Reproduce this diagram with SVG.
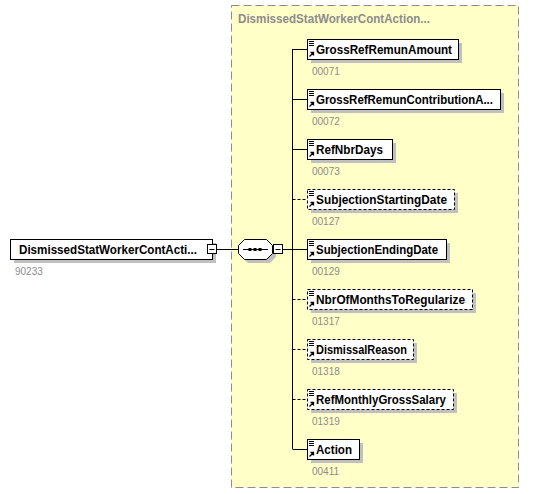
<svg xmlns="http://www.w3.org/2000/svg" width="533" height="494" viewBox="0 0 533 494">
<style>
.nm{font-family:"Liberation Sans",Arial,sans-serif;font-weight:bold;font-size:12.6px;fill:#000}
.num{font-family:"Liberation Sans",Arial,sans-serif;font-size:10px;fill:#8c8c8c}
.ttl{font-family:"Liberation Sans",Arial,sans-serif;font-weight:bold;font-size:12.6px;fill:#8c8c8c}
.box{fill:#fff;stroke:#000;stroke-width:1}
.opt{fill:#fff;stroke:#000;stroke-width:1;stroke-dasharray:3,2}
.sh{fill:#c0c0c0}
.ln{stroke:#000;stroke-width:1;fill:none}
.dl{stroke:#000;stroke-width:1;fill:none;stroke-dasharray:3,2}
</style>
<defs>
<g id="ico">
<path d="M2,2.5h5M2,4.5h5M2,6.5h5" stroke="#000" stroke-width="1"/>
<path d="M2.5,17.5L6.5,13.5M3.5,13.5h3v3" stroke="#000" stroke-width="1.3" fill="none"/>
</g>
</defs>
<rect x="231.5" y="5.5" width="287" height="482" fill="#ffffc8" stroke="#8c8c8c" stroke-dasharray="8,4"/>
<text class="ttl" x="238" y="23" textLength="192" lengthAdjust="spacingAndGlyphs">DismissedStatWorkerContAction...</text>

<g id="connectors">
<path class="ln" d="M217,249.5H238M283,249.5H292.5M292.5,49V449"/>
<path class="ln" d="M292.5,49.5H307M292.5,99.5H307M292.5,149.5H307M292.5,249.5H307M292.5,449.5H307"/>
<path class="dl" d="M292.5,199.5H307M292.5,299.5H307M292.5,349.5H307M292.5,399.5H307"/>
</g>

<g id="root">
<rect class="sh" x="14" y="243" width="202" height="20"/>
<rect class="box" x="10.5" y="239.5" width="202" height="20"/>
<text class="nm" x="19" y="254" textLength="178" lengthAdjust="spacingAndGlyphs">DismissedStatWorkerContActi...</text>
<rect class="box" x="207.5" y="244.5" width="9" height="9"/>
<path class="ln" d="M209.5,249.5H214.5"/>
<text class="num" x="15" y="275">90233</text>
</g>

<g id="seq">
<polygon class="sh" points="248,243 270,243 276,249 276,257 270,263 248,263 242,257 242,249"/>
<polygon class="box" points="244.5,239.5 266.5,239.5 272.5,245.5 272.5,253.5 266.5,259.5 244.5,259.5 238.5,253.5 238.5,245.5"/>
<path class="ln" d="M243,249.5H268"/>
<rect x="248.5" y="248" width="3" height="3" fill="#000"/>
<rect x="253.5" y="248" width="3" height="3" fill="#000"/>
<rect x="258.5" y="248" width="3" height="3" fill="#000"/>
<rect class="box" x="273.5" y="244.5" width="9" height="9"/>
<path class="ln" d="M275.5,249.5H280.5"/>
</g>

<g id="n1">
<rect class="sh" x="311" y="43" width="151" height="20"/>
<rect class="box" x="307.5" y="39.5" width="151" height="20"/>
<use href="#ico" x="307" y="39"/>
<text class="nm" x="316" y="54" textLength="136" lengthAdjust="spacingAndGlyphs">GrossRefRemunAmount</text>
<text class="num" x="312" y="75">00071</text>
</g>
<g id="n2">
<rect class="sh" x="311" y="93" width="193" height="20"/>
<rect class="box" x="307.5" y="89.5" width="193" height="20"/>
<use href="#ico" x="307" y="89"/>
<text class="nm" x="316" y="104" textLength="177" lengthAdjust="spacingAndGlyphs">GrossRefRemunContributionA...</text>
<text class="num" x="312" y="125">00072</text>
</g>
<g id="n3">
<rect class="sh" x="311" y="143" width="85" height="20"/>
<rect class="box" x="307.5" y="139.5" width="85" height="20"/>
<use href="#ico" x="307" y="139"/>
<text class="nm" x="316" y="154" textLength="67" lengthAdjust="spacingAndGlyphs">RefNbrDays</text>
<text class="num" x="312" y="175">00073</text>
</g>
<g id="n4">
<rect class="sh" x="311" y="193" width="147" height="20"/>
<rect class="opt" x="307.5" y="189.5" width="147" height="20"/>
<use href="#ico" x="307" y="189"/>
<text class="nm" x="316" y="204" textLength="131" lengthAdjust="spacingAndGlyphs">SubjectionStartingDate</text>
<text class="num" x="312" y="225">00127</text>
</g>
<g id="n5">
<rect class="sh" x="311" y="243" width="139" height="20"/>
<rect class="box" x="307.5" y="239.5" width="139" height="20"/>
<use href="#ico" x="307" y="239"/>
<text class="nm" x="316" y="254" textLength="122" lengthAdjust="spacingAndGlyphs">SubjectionEndingDate</text>
<text class="num" x="312" y="275">00129</text>
</g>
<g id="n6">
<rect class="sh" x="311" y="293" width="165" height="20"/>
<rect class="opt" x="307.5" y="289.5" width="165" height="20"/>
<use href="#ico" x="307" y="289"/>
<text class="nm" x="316" y="304" textLength="149" lengthAdjust="spacingAndGlyphs">NbrOfMonthsToRegularize</text>
<text class="num" x="312" y="325">01317</text>
</g>
<g id="n7">
<rect class="sh" x="311" y="343" width="106" height="20"/>
<rect class="opt" x="307.5" y="339.5" width="106" height="20"/>
<use href="#ico" x="307" y="339"/>
<text class="nm" x="316" y="354" textLength="91" lengthAdjust="spacingAndGlyphs">DismissalReason</text>
<text class="num" x="312" y="375">01318</text>
</g>
<g id="n8">
<rect class="sh" x="311" y="393" width="146" height="20"/>
<rect class="opt" x="307.5" y="389.5" width="146" height="20"/>
<use href="#ico" x="307" y="389"/>
<text class="nm" x="316" y="404" textLength="130" lengthAdjust="spacingAndGlyphs">RefMonthlyGrossSalary</text>
<text class="num" x="312" y="425">01319</text>
</g>
<g id="n9">
<rect class="sh" x="311" y="443" width="52" height="20"/>
<rect class="box" x="307.5" y="439.5" width="52" height="20"/>
<use href="#ico" x="307" y="439"/>
<text class="nm" x="316" y="454" textLength="36" lengthAdjust="spacingAndGlyphs">Action</text>
<text class="num" x="312" y="475">00411</text>
</g>
</svg>
